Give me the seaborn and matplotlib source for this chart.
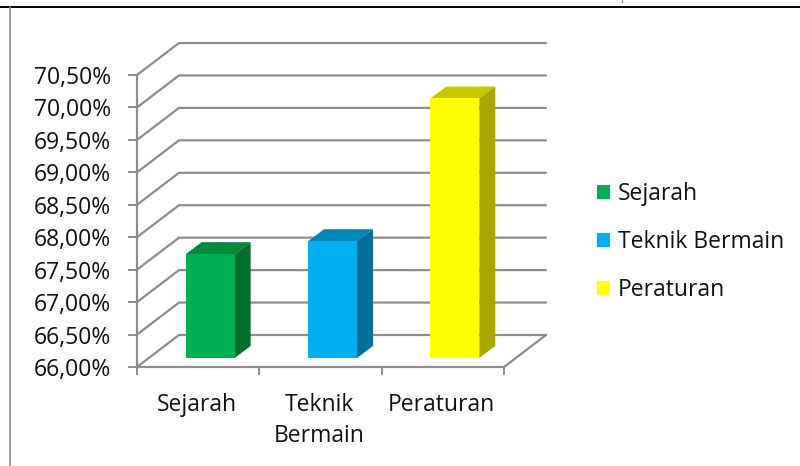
#!/usr/bin/env python3

import matplotlib
matplotlib.use('Agg')
import matplotlib.pyplot as plt
from matplotlib.lines import Line2D
from matplotlib.patches import Polygon, Patch
import pandas as pd
import seaborn as sns

categories = ['Sejarah', 'Teknik Bermain', 'Peraturan']
tick_labels = ['Sejarah', 'Teknik\nBermain', 'Peraturan']
values = [67.6, 67.8, 70.0]
y_ticks = [66.0, 66.5, 67.0, 67.5, 68.0, 68.5, 69.0, 69.5, 70.0, 70.5]
front_colors = ['#00B050', '#00B0F0', '#FFFF00']
top_colors = ['#008A3E', '#0088B8', '#C8C800']
side_colors = ['#00702F', '#006F9A', '#A8A800']

GREY = '#8C8C8C'
FONT = 16.5
W, H = 800, 466
AX_L, AX_R, AX_T, AX_B = 137, 504, 75, 367

sns.set_theme(style='white')
plt.rcParams['font.family'] = ['Open Sans', 'DejaVu Sans']
plt.rcParams['text.color'] = '#111111'

fig = plt.figure(figsize=[W / 100, H / 100], dpi=100)
ax = fig.add_axes([AX_L / W, (H - AX_B) / H, (AX_R - AX_L) / W, (AX_B - AX_T) / H])

data = pd.DataFrame({'cat': categories, 'val': values})
sns.barplot(data=data, x='cat', y='val', hue='cat', palette=front_colors, saturation=1,
            dodge=False, width=0.4, legend=False, linewidth=0, ax=ax, zorder=4)
ax.set_xlim(-0.5, 2.5)
ax.set_ylim(y_ticks[0], y_ticks[-1])

# pixel depth of the fake 3d turned into data units
px_x = 3 / (AX_R - AX_L)
px_y = (y_ticks[-1] - y_ticks[0]) / (AX_B - AX_T)
depth_x, depth_y = 42 * px_x, 32 * px_y
shift_x, shift_y = 12 * px_x, 9 * px_y
bar_x, bar_y = 16 * px_x, 12 * px_y

# back wall grid and the lines running to the front
for v in y_ticks:
    ax.plot([-0.5, -0.5 + depth_x, 2.5 + depth_x], [v, v + depth_y, v + depth_y],
            color=GREY, lw=1.6, clip_on=False, zorder=1, solid_joinstyle='miter')
ax.plot([2.5, 2.5 + depth_x], [y_ticks[0], y_ticks[0] + depth_y],
        color=GREY, lw=1.6, clip_on=False, zorder=1)

# move the bars into the box and add the top and side faces
bars = [c[0] for c in ax.containers]
for bar, v, top, side in zip(bars, values, top_colors, side_colors):
    bar.set_x(bar.get_x() + shift_x)
    bar.set_y(y_ticks[0] + shift_y)
    bar.set_height(v - y_ticks[0])
    bar.set_clip_on(False)
    x0, x1 = bar.get_x(), bar.get_x() + bar.get_width()
    y0, y1 = bar.get_y(), bar.get_y() + bar.get_height()
    ax.add_patch(Polygon([(x0, y1), (x1, y1), (x1 + bar_x, y1 + bar_y), (x0 + bar_x, y1 + bar_y)],
                         facecolor=top, edgecolor='none', clip_on=False, zorder=3))
    ax.add_patch(Polygon([(x1, y0), (x1 + bar_x, y0 + bar_y), (x1 + bar_x, y1 + bar_y), (x1, y1)],
                         facecolor=side, edgecolor='none', clip_on=False, zorder=3))

ax.set_xlabel('')
ax.set_ylabel('')
ax.set_xticks([-0.5, 0.5, 1.5, 2.5])
ax.set_xticklabels([])
ax.set_yticks(y_ticks)
ax.set_yticklabels([('%.2f%%' % v).replace('.', ',') for v in y_ticks])
ax.tick_params(axis='y', length=6.5, width=1.4, color=GREY, labelsize=FONT, pad=12,
               left=True, labelcolor='#111111')
ax.tick_params(axis='x', length=6, width=1.4, color=GREY, bottom=True)
for i, lab in enumerate(tick_labels):
    ax.annotate(lab, xy=(i, y_ticks[0]), xytext=(-1, -18.5), textcoords='offset points',
                ha='center', va='top', fontsize=FONT, linespacing=1.38, color='#111111')

ax.patch.set_alpha(0)
sns.despine(ax=ax, top=True, right=True)
for side in ['left', 'bottom']:
    ax.spines[side].set_color(GREY)
    ax.spines[side].set_linewidth(1.6)

handles = [Patch(facecolor=c, edgecolor='none', label=l) for c, l in zip(front_colors, categories)]
ax.legend(handles=handles, loc='center left', bbox_to_anchor=(597 / W, (H - 242) / H),
          bbox_transform=fig.transFigure, frameon=False, fontsize=FONT, borderpad=0,
          borderaxespad=0, handlelength=0.57, handleheight=0.57, handletextpad=0.35,
          labelspacing=1.06)

# page frame from the source document
fig.add_artist(Line2D([0, 1], [1 - 6.5 / H, 1 - 6.5 / H], color='black', lw=1.4))
fig.add_artist(Line2D([9.5 / W, 9.5 / W], [0, 1 - 7 / H], color='#8A8A8A', lw=1.2))
fig.add_artist(Line2D([622 / W, 622 / W], [1 - 1.5 / H, 1], color='#8A8A8A', lw=1))

fig.savefig('out.png', dpi=100)
